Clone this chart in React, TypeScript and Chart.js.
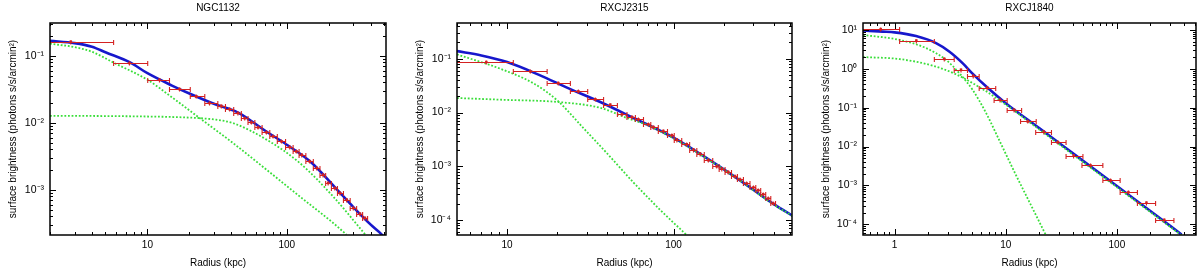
import React, { useEffect, useRef } from "react";
import { Chart, registerables } from "chart.js";

Chart.register(...registerables);

const FONT = '"Liberation Sans", Arial, sans-serif';
const BLUE = "#1717cc";
const GREEN = "#3ade3a";
const RED = "#d42222";

const X_TICK_VALUES = [1, 10, 100];
const X_TICK_LABELS = ["1", "10", "100"];
const Y_TICK_VALUES = [10, 1, 0.1, 0.01, 0.001, 0.0001];
const Y_TICK_LABELS = ["10¹", "10⁰", "10⁻¹", "10⁻²", "10⁻³", "10⁻⁴"];
const X_AXIS_TITLE = "Radius (kpc)";
const Y_AXIS_TITLE = "surface brightness (photons s/s/arcmin²)";

// ---------- Panel 1: NGC1132 ----------
const NGC1132_TITLE = "NGC1132";
const NGC1132_X_RANGE = [2, 515];
const NGC1132_Y_RANGE = [2.1e-4, 0.31];
const NGC1132_MODEL_R = [2, 3, 4, 5, 7.5, 10, 15, 20, 30, 45, 70, 100, 150, 220, 300, 400, 480, 530];
const NGC1132_MODEL_S = [0.168, 0.155, 0.137, 0.113, 0.08, 0.055, 0.036, 0.0274, 0.0192, 0.0141, 0.0076, 0.0047, 0.00255, 0.0011, 0.00055, 0.0003, 0.000213, 0.00016];
const NGC1132_COMP1_R = [2, 3, 4, 5.8, 10, 15, 23.7, 41.1, 71.5, 124, 215, 268];
const NGC1132_COMP1_S = [0.152, 0.135, 0.115, 0.078, 0.0439, 0.024, 0.01175, 0.00498, 0.00199, 0.00079, 0.000318, 0.000213];
const NGC1132_COMP2_R = [2, 5, 10, 15, 24, 31, 41, 71.5, 124, 215, 366];
const NGC1132_COMP2_S = [0.0127, 0.0126, 0.0124, 0.0122, 0.0117, 0.0111, 0.0099, 0.0056, 0.0025, 0.00079, 0.000213];
const NGC1132_DATA_R = [2.82, 7.43, 12.2, 17.0, 22.4, 27.9, 33.9, 38.9, 44.6, 49.9, 55.7, 62.2, 71.4, 79.7, 91.6, 105, 117, 128, 146, 164, 182, 198, 221, 241, 269, 300, 335, 364];
const NGC1132_DATA_S = [0.163, 0.078, 0.0439, 0.0319, 0.0247, 0.0197, 0.0179, 0.016, 0.014, 0.0117, 0.0101, 0.0085, 0.0072, 0.00625, 0.00526, 0.00434, 0.00373, 0.00333, 0.00264, 0.00211, 0.00167, 0.00126, 0.00106, 0.00089, 0.00071, 0.000533, 0.000438, 0.000378];
const NGC1132_DATA_LO = [1.5, 5.72, 10.05, 14.4, 20.3, 25.8, 32, 36.3, 41.6, 47.2, 52.7, 59, 66.5, 75.5, 85.5, 98, 111, 122.5, 137, 155, 173, 190, 209, 231, 255, 285, 317, 350];
const NGC1132_DATA_HI = [5.72, 10.05, 14.4, 20.3, 25.8, 32, 36.3, 41.6, 47.2, 52.7, 59, 66.5, 75.5, 85.5, 98, 111, 122.5, 137, 155, 173, 190, 209, 231, 255, 285, 317, 350, 380];

// ---------- Panel 2: RXCJ2315 ----------
const RXCJ2315_TITLE = "RXCJ2315";
const RXCJ2315_X_RANGE = [5, 515];
const RXCJ2315_Y_RANGE = [5.3e-5, 0.46];
const RXCJ2315_MODEL_R = [5, 7, 10, 15.8, 22.9, 36.3, 57.5, 100, 144.5, 251, 398, 520];
const RXCJ2315_MODEL_S = [0.138, 0.115, 0.0865, 0.049, 0.029, 0.0157, 0.0079, 0.0034, 0.0017, 0.00055, 0.0002, 0.00012];
const RXCJ2315_COMP1_R = [5, 9.1, 14.5, 20, 28.8, 39.8, 57.5, 83.2, 120];
const RXCJ2315_COMP1_S = [0.12, 0.065, 0.0344, 0.0168, 0.0051, 0.00175, 0.0005, 0.000155, 0.0000527];
const RXCJ2315_COMP2_R = [5, 9.1, 20, 36.3, 52.5, 72.4, 100, 144.5, 251, 398, 520];
const RXCJ2315_COMP2_S = [0.0186, 0.0173, 0.0157, 0.0122, 0.0079, 0.00555, 0.0033, 0.00168, 0.00054, 0.000198, 0.000119];
const RXCJ2315_DATA_R = [7.5, 13.8, 20.3, 26.8, 33.9, 41.7, 49.0, 56.2, 61.5, 70.6, 75.7, 86.9, 97.7, 104.7, 120, 131.8, 144.5, 161.9, 181.8, 195, 213, 234, 251, 275, 302, 323, 346, 371, 397];
const RXCJ2315_DATA_S = [0.0865, 0.058, 0.0352, 0.0247, 0.0176, 0.014, 0.00927, 0.00826, 0.00748, 0.00604, 0.00538, 0.00454, 0.00378, 0.00314, 0.00257, 0.00205, 0.00173, 0.0013, 0.001, 0.00091, 0.00079, 0.00065, 0.00057, 0.00048, 0.000405, 0.00036, 0.000303, 0.000253, 0.000204];
const RXCJ2315_DATA_LO = [4.5, 10.9, 17.4, 24, 30.5, 38, 46, 52.5, 59, 66, 73, 81, 92, 101, 112, 125, 138, 153, 172, 188, 204, 223, 242, 263, 288, 312, 334, 358, 384];
const RXCJ2315_DATA_HI = [10.9, 17.4, 24, 30.5, 38, 46, 52.5, 59, 66, 73, 81, 92, 101, 112, 125, 138, 153, 172, 188, 204, 223, 242, 263, 288, 312, 334, 358, 384, 410];

// ---------- Panel 3: RXCJ1840 ----------
const RXCJ1840_TITLE = "RXCJ1840";
const RXCJ1840_X_RANGE = [0.52, 515];
const RXCJ1840_Y_RANGE = [5.3e-5, 15];
const RXCJ1840_MODEL_R = [0.52, 0.785, 1.0, 1.56, 2.36, 3.1, 4.09, 5.03, 7.08, 10, 20, 50, 100, 200, 382];
const RXCJ1840_MODEL_S = [9.6, 9.0, 8.6, 6.9, 4.55, 2.77, 1.39, 0.75, 0.3, 0.13, 0.0297, 0.0042, 0.00096, 0.00022, 0.0000545];
const RXCJ1840_COMP1_R = [0.52, 1.11, 1.92, 2.9, 3.82, 5.03, 6.62, 8.7, 12.3, 17.4, 22.9];
const RXCJ1840_COMP1_S = [7.4, 5.5, 3.39, 1.69, 0.77, 0.287, 0.075, 0.015, 0.0019, 0.00026, 0.0000537];
const RXCJ1840_COMP2_R = [0.52, 1.11, 2.2, 3.57, 6.18, 10, 17.4, 34.5, 100, 382];
const RXCJ1840_COMP2_S = [2.0, 1.77, 1.2, 0.72, 0.3, 0.12, 0.037, 0.0086, 0.0009, 0.000052];
const RXCJ1840_DATA_R = [0.75, 1.57, 2.8, 3.96, 5.1, 6.8, 8.9, 11.9, 15.8, 22, 29.4, 40.8, 58, 87.8, 127, 184.5, 267];
const RXCJ1840_DATA_S = [10.4, 5.3, 1.8, 0.94, 0.656, 0.329, 0.158, 0.0877, 0.044, 0.0243, 0.013, 0.00587, 0.00325, 0.00134, 0.00067, 0.00036, 0.00013];
const RXCJ1840_DATA_LO = [0.45, 1.11, 2.28, 3.44, 4.53, 5.77, 7.86, 10.3, 13.6, 18.6, 25.8, 34.9, 48.5, 74.8, 107, 153, 223];
const RXCJ1840_DATA_HI = [1.11, 2.28, 3.44, 4.53, 5.77, 8.13, 10.3, 13.9, 18.8, 25.8, 34.9, 49.5, 74.8, 107, 153, 223, 326];

type PanelDef = {
  title: string;
  xRange: number[];
  yRange: number[];
  plotLeft: number;
  plotRight: number;
  modelR: number[];
  modelS: number[];
  comp1R: number[];
  comp1S: number[];
  comp2R: number[];
  comp2S: number[];
  dataR: number[];
  dataS: number[];
  dataLo: number[];
  dataHi: number[];
};

const PANELS: PanelDef[] = [
  {
    title: NGC1132_TITLE, xRange: NGC1132_X_RANGE, yRange: NGC1132_Y_RANGE, plotLeft: 50, plotRight: 386,
    modelR: NGC1132_MODEL_R, modelS: NGC1132_MODEL_S, comp1R: NGC1132_COMP1_R, comp1S: NGC1132_COMP1_S,
    comp2R: NGC1132_COMP2_R, comp2S: NGC1132_COMP2_S, dataR: NGC1132_DATA_R, dataS: NGC1132_DATA_S,
    dataLo: NGC1132_DATA_LO, dataHi: NGC1132_DATA_HI,
  },
  {
    title: RXCJ2315_TITLE, xRange: RXCJ2315_X_RANGE, yRange: RXCJ2315_Y_RANGE, plotLeft: 57, plotRight: 392,
    modelR: RXCJ2315_MODEL_R, modelS: RXCJ2315_MODEL_S, comp1R: RXCJ2315_COMP1_R, comp1S: RXCJ2315_COMP1_S,
    comp2R: RXCJ2315_COMP2_R, comp2S: RXCJ2315_COMP2_S, dataR: RXCJ2315_DATA_R, dataS: RXCJ2315_DATA_S,
    dataLo: RXCJ2315_DATA_LO, dataHi: RXCJ2315_DATA_HI,
  },
  {
    title: RXCJ1840_TITLE, xRange: RXCJ1840_X_RANGE, yRange: RXCJ1840_Y_RANGE, plotLeft: 63, plotRight: 398,
    modelR: RXCJ1840_MODEL_R, modelS: RXCJ1840_MODEL_S, comp1R: RXCJ1840_COMP1_R, comp1S: RXCJ1840_COMP1_S,
    comp2R: RXCJ1840_COMP2_R, comp2S: RXCJ1840_COMP2_S, dataR: RXCJ1840_DATA_R, dataS: RXCJ1840_DATA_S,
    dataLo: RXCJ1840_DATA_LO, dataHi: RXCJ1840_DATA_HI,
  },
];

const PANEL_W = 400;
const PANEL_H = 271;
const PLOT_TOP = 23;
const PLOT_BOTTOM = 235;

function labelFor(values: number[], labels: string[], v: number): string {
  for (let i = 0; i < values.length; i++) {
    if (Math.abs(Math.log10(values[i]) - Math.log10(v)) < 1e-6) return labels[i];
  }
  return "";
}

const decorPlugin = {
  id: "decor",
  afterDatasetsDraw(chart: any) {
    const { ctx, chartArea } = chart;
    const { left, right, top, bottom } = chartArea;
    const xs = chart.scales.x;
    const ys = chart.scales.y;

    // horizontal error bars for the data
    const pts = chart.data.datasets[0].data as any[];
    ctx.save();
    ctx.beginPath();
    ctx.rect(left, top, right - left, bottom - top);
    ctx.clip();
    ctx.strokeStyle = RED;
    ctx.lineWidth = 1.1;
    for (const p of pts) {
      const x1 = xs.getPixelForValue(p.xMin);
      const x2 = xs.getPixelForValue(p.xMax);
      const px = xs.getPixelForValue(p.x);
      const py = Math.round(ys.getPixelForValue(p.y)) + 0.5;
      ctx.beginPath();
      ctx.moveTo(x1, py);
      ctx.lineTo(x2, py);
      ctx.moveTo(x1, py - 2.5);
      ctx.lineTo(x1, py + 2.5);
      ctx.moveTo(x2, py - 2.5);
      ctx.lineTo(x2, py + 2.5);
      ctx.moveTo(px, py - 2);
      ctx.lineTo(px, py + 2);
      ctx.stroke();
    }
    ctx.restore();

    // frame
    ctx.save();
    ctx.strokeStyle = "#000";
    ctx.lineWidth = 1.5;
    ctx.strokeRect(left, top, right - left, bottom - top);

    // inward major/minor ticks on all four sides
    ctx.lineWidth = 1;
    ctx.beginPath();
    const drawTicks = (scale: any, horizontal: boolean) => {
      const lo = Math.floor(Math.log10(scale.min));
      const hi = Math.ceil(Math.log10(scale.max));
      for (let k = lo; k <= hi; k++) {
        for (let m = 1; m <= 9; m++) {
          const v = m * Math.pow(10, k);
          if (v < scale.min * 0.9999 || v > scale.max * 1.0001) continue;
          const len = m === 1 ? 6 : 3;
          const p = Math.round(scale.getPixelForValue(v)) + 0.5;
          if (horizontal) {
            ctx.moveTo(p, bottom);
            ctx.lineTo(p, bottom - len);
            ctx.moveTo(p, top);
            ctx.lineTo(p, top + len);
          } else {
            ctx.moveTo(left, p);
            ctx.lineTo(left + len, p);
            ctx.moveTo(right, p);
            ctx.lineTo(right - len, p);
          }
        }
      }
    };
    drawTicks(xs, true);
    drawTicks(ys, false);
    ctx.stroke();
    ctx.restore();
  },
  afterDraw(chart: any, _args: any, opts: any) {
    const { ctx, chartArea } = chart;
    const { left, right, top, bottom } = chartArea;
    const cx = (left + right) / 2;
    ctx.save();
    ctx.fillStyle = "#000";
    ctx.font = `10px ${FONT}`;
    ctx.textAlign = "center";
    ctx.textBaseline = "middle";
    ctx.fillText(opts.title, cx, 8);
    ctx.fillText(X_AXIS_TITLE, cx, 263);
    ctx.translate(left - 37, (top + bottom) / 2);
    ctx.rotate(-Math.PI / 2);
    ctx.fillText(Y_AXIS_TITLE, 0, 0);
    ctx.restore();
  },
};

function PanelChart({ def }: { def: PanelDef }) {
  const ref = useRef<HTMLCanvasElement | null>(null);

  useEffect(() => {
    if (!ref.current) return;
    const model = def.modelR.map((r, i) => ({ x: r, y: def.modelS[i] }));
    const comp1 = def.comp1R.map((r, i) => ({ x: r, y: def.comp1S[i] }));
    const comp2 = def.comp2R.map((r, i) => ({ x: r, y: def.comp2S[i] }));
    const data = def.dataR.map((r, i) => ({ x: r, y: def.dataS[i], xMin: def.dataLo[i], xMax: def.dataHi[i] }));

    const chart = new Chart(ref.current, {
      type: "line",
      data: {
        datasets: [
          {
            label: "data",
            data: data as any,
            showLine: false,
            pointStyle: "rect",
            pointRadius: 1.8,
            pointBackgroundColor: RED,
            pointBorderColor: RED,
            pointBorderWidth: 0,
            borderColor: RED,
            order: 0,
          },
          {
            label: "component 1",
            data: comp1 as any,
            borderColor: GREEN,
            borderWidth: 1.8,
            borderDash: [1.8, 1.8],
            pointRadius: 0,
            cubicInterpolationMode: "monotone",
            fill: false,
            order: 1,
          },
          {
            label: "component 2",
            data: comp2 as any,
            borderColor: GREEN,
            borderWidth: 1.8,
            borderDash: [1.8, 1.8],
            pointRadius: 0,
            cubicInterpolationMode: "monotone",
            fill: false,
            order: 1,
          },
          {
            label: "total",
            data: model as any,
            borderColor: BLUE,
            borderWidth: 2.6,
            pointRadius: 0,
            cubicInterpolationMode: "monotone",
            fill: false,
            order: 3,
          },
        ],
      },
      options: {
        animation: false,
        responsive: false,
        maintainAspectRatio: false,
        events: [],
        layout: { padding: { left: 0, right: PANEL_W - def.plotRight, top: PLOT_TOP, bottom: 0 } },
        plugins: {
          legend: { display: false },
          tooltip: { enabled: false },
          title: { display: false },
          decor: { title: def.title },
        } as any,
        scales: {
          x: {
            type: "logarithmic",
            min: def.xRange[0],
            max: def.xRange[1],
            grid: { display: false, drawTicks: false },
            border: { display: false },
            ticks: {
              autoSkip: false,
              maxRotation: 0,
              padding: 4,
              color: "#000",
              font: { family: FONT, size: 10 },
              callback: (v: any) => labelFor(X_TICK_VALUES, X_TICK_LABELS, Number(v)),
            },
            afterBuildTicks: (s: any) => {
              s.ticks = X_TICK_VALUES.filter((v) => v >= s.min && v <= s.max).map((v) => ({ value: v }));
            },
            afterFit: (s: any) => {
              s.height = PANEL_H - PLOT_BOTTOM;
            },
          },
          y: {
            type: "logarithmic",
            min: def.yRange[0],
            max: def.yRange[1],
            grid: { display: false, drawTicks: false },
            border: { display: false },
            ticks: {
              autoSkip: false,
              padding: 6,
              color: "#000",
              font: { family: FONT, size: 10.5 },
              callback: (v: any) => labelFor(Y_TICK_VALUES, Y_TICK_LABELS, Number(v)),
            },
            afterBuildTicks: (s: any) => {
              s.ticks = Y_TICK_VALUES.filter((v) => v >= s.min && v <= s.max).map((v) => ({ value: v }));
            },
            afterFit: (s: any) => {
              s.width = def.plotLeft;
            },
          },
        } as any,
      },
      plugins: [decorPlugin as any],
    });
    return () => chart.destroy();
  }, [def]);

  return (
    <div style={{ width: PANEL_W, height: PANEL_H, position: "relative" }}>
      <canvas ref={ref} width={PANEL_W} height={PANEL_H} style={{ display: "block", width: PANEL_W, height: PANEL_H }} />
    </div>
  );
}

export default function App() {
  return (
    <div
      style={{
        position: "absolute",
        left: 0,
        top: 0,
        width: 1200,
        height: 271,
        background: "#fff",
        display: "flex",
        flexDirection: "row",
      }}
    >
      {PANELS.map((p) => (
        <PanelChart key={p.title} def={p} />
      ))}
    </div>
  );
}
